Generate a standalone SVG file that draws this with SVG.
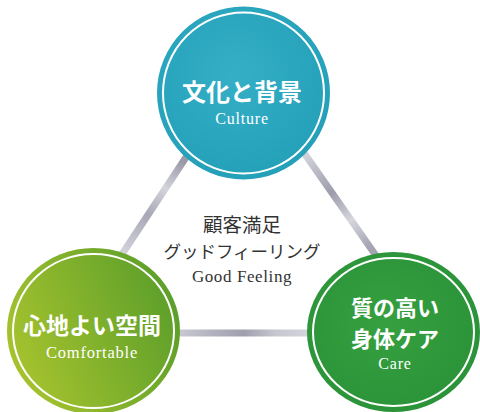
<svg xmlns="http://www.w3.org/2000/svg" width="480" height="412" viewBox="0 0 480 412">
<defs>
<linearGradient id="barL" x1="183" y1="162" x2="125" y2="250" gradientUnits="userSpaceOnUse">
<stop offset="0" stop-color="#9a9aa8"/><stop offset="0.3" stop-color="#d4d4dc"/><stop offset="0.6" stop-color="#a8a8b6"/><stop offset="1" stop-color="#d0d0d8"/>
</linearGradient>
<linearGradient id="barR" x1="307" y1="157" x2="370" y2="247" gradientUnits="userSpaceOnUse">
<stop offset="0" stop-color="#d0d0d8"/><stop offset="0.4" stop-color="#9c9cac"/><stop offset="0.7" stop-color="#d6d6de"/><stop offset="1" stop-color="#a4a4b2"/>
</linearGradient>
<linearGradient id="barB" x1="180" y1="0" x2="307" y2="0" gradientUnits="userSpaceOnUse">
<stop offset="0" stop-color="#c8c8d2"/><stop offset="0.5" stop-color="#9e9eae"/><stop offset="0.75" stop-color="#c6c6d0"/><stop offset="1" stop-color="#d4d4dc"/>
</linearGradient>
<radialGradient id="gTop" cx="0.45" cy="0.4" r="0.6">
<stop offset="0" stop-color="#34afc6"/><stop offset="1" stop-color="#24a0b9"/>
</radialGradient>
<linearGradient id="gLeft" x1="0" y1="0.7" x2="1" y2="0.3">
<stop offset="0" stop-color="#a9c42e"/><stop offset="1" stop-color="#5a9e2a"/>
</linearGradient>
<radialGradient id="gRight" cx="0.45" cy="0.45" r="0.6">
<stop offset="0" stop-color="#36a040"/><stop offset="1" stop-color="#2a9238"/>
</radialGradient>
<style>
.ring{fill:none;stroke:#ffffff;stroke-width:2}
.jp{font-family:"Noto Sans CJK JP","Noto Sans CJK SC",sans-serif;font-weight:bold;fill:#ffffff;text-anchor:middle}
.en{font-family:"Liberation Serif","Times New Roman",serif;fill:#ffffff;text-anchor:middle;letter-spacing:0.8px}
.cjp{font-family:"Noto Sans CJK JP","Noto Sans CJK SC",sans-serif;fill:#333333;text-anchor:middle}
.cen{font-family:"Liberation Serif","Times New Roman",serif;fill:#333333;text-anchor:middle;letter-spacing:0.6px}
.bar{stroke-width:7;stroke-linecap:butt;fill:none}
</style>
</defs>
<rect width="480" height="412" fill="#ffffff"/>
<g id="connectors">
<line class="bar" x1="204" y1="130" x2="105" y2="280" stroke="url(#barL)"/>
<line class="bar" x1="288" y1="130" x2="393" y2="280" stroke="url(#barR)"/>
<line class="bar" x1="150" y1="333" x2="340" y2="333" stroke="url(#barB)"/>
</g>
<g id="center">
<text class="cjp" x="242" y="232" font-size="19.5">顧客満足</text>
<text class="cjp" x="242" y="258" font-size="17.5">グッドフィーリング</text>
<text class="cen" x="242" y="282" font-size="17">Good Feeling</text>
</g>
<g id="culture">
<circle cx="243.5" cy="93" r="86.5" fill="url(#gTop)"/>
<circle class="ring" cx="243.5" cy="93" r="80.5"/>
<text class="jp" x="242" y="101" font-size="24">文化と背景</text>
<text class="en" x="242" y="124" font-size="16">Culture</text>
</g>
<g id="comfortable">
<ellipse cx="93.5" cy="331" rx="86.5" ry="83" fill="url(#gLeft)"/>
<ellipse class="ring" cx="93.5" cy="331" rx="80.5" ry="77"/>
<text class="jp" x="92" y="334" font-size="23">心地よい空間</text>
<text class="en" x="92" y="358" font-size="16.5">Comfortable</text>
</g>
<g id="care">
<ellipse cx="393.5" cy="332" rx="86.5" ry="80" fill="url(#gRight)"/>
<ellipse class="ring" cx="393.5" cy="332" rx="80.5" ry="74"/>
<text class="jp" x="395" y="316" font-size="22">質の高い</text>
<text class="jp" x="395" y="347" font-size="22">身体ケア</text>
<text class="en" x="395" y="369" font-size="16">Care</text>
</g>
</svg>
